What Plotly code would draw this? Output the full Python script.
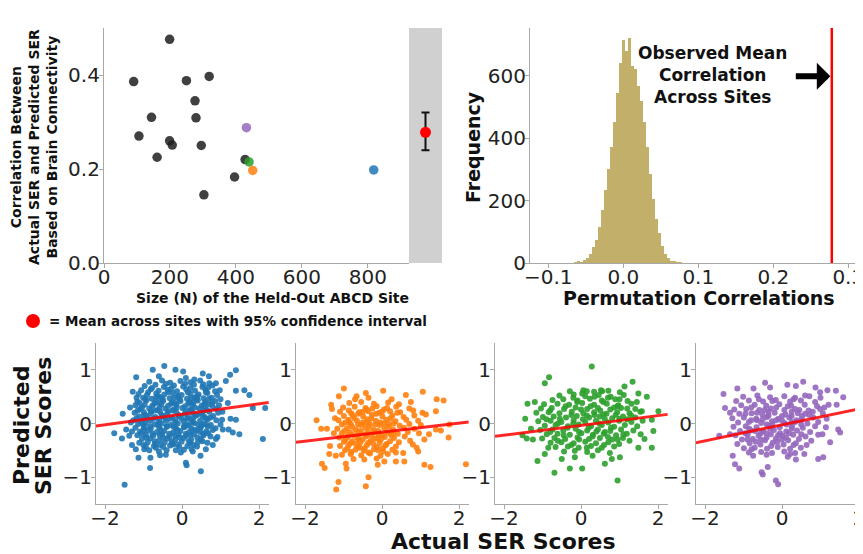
import plotly.graph_objects as go

# ---------------- data ----------------
# Top-left: per-site correlation vs site size
site_n = [199, 90, 250, 319, 276, 144, 279, 106, 199, 207, 295, 161, 428, 396, 303]
site_r = [0.476, 0.386, 0.388, 0.397, 0.345, 0.310, 0.309, 0.270, 0.260, 0.251, 0.250, 0.225, 0.220, 0.183, 0.145]
hl_n = [432, 440, 451, 818]
hl_r = [0.288, 0.215, 0.197, 0.198]
hl_colors = ["#9467bd", "#2ca02c", "#ff7f0e", "#1f77b4"]
mean_r = 0.278
ci_low = 0.240
ci_high = 0.320

# Top-right: permutation histogram (bin centers, counts)
perm_bins = [-0.064, -0.060, -0.056, -0.052, -0.048, -0.044, -0.040, -0.036, -0.032, -0.028,
             -0.024, -0.020, -0.016, -0.012, -0.008, -0.004, 0.000, 0.004, 0.008, 0.012,
             0.016, 0.020, 0.024, 0.028, 0.032, 0.036, 0.040, 0.044, 0.048, 0.052,
             0.056, 0.060, 0.064, 0.068, 0.072, 0.076]
perm_counts = [3, 8, 3, 10, 15, 30, 50, 75, 115, 170,
               235, 300, 370, 450, 545, 640, 715, 680, 720, 630,
               620, 565, 520, 450, 370, 285, 205, 140, 95, 55,
               30, 15, 8, 5, 3, 1]
observed_mean = 0.278

# Bottom: actual vs predicted SER scores for four held-out sites
BLUE = [
    (-1.49, -1.14), (-0.46, 1.07), (-0.76, 1.00), (-0.17, 1.00), (0.03, 0.97), (-1.19, 0.86),
    (1.40, 0.99), (1.25, 0.91), (1.14, 0.79), (1.62, 0.62), (1.40, 0.61), (1.75, 0.53),
    (1.84, 0.29), (2.16, 0.29), (2.10, -0.29), (1.49, -0.20), (1.32, -0.17), (1.21, -0.11),
    (1.40, 0.07), (1.26, 0.09), (1.19, 0.38), (0.88, 0.75), (0.54, 0.93), (0.32, 0.82),
    (-1.28, 0.59), (-1.54, 0.18), (-1.76, -0.18), (-1.56, -0.28), (-1.37, -0.23), (-1.45, -0.11),
    (-1.30, -0.40), (-1.13, -0.64), (-0.83, -0.83), (-0.82, -0.64), (-0.57, -0.59), (-0.42, -0.58),
    (-0.16, -0.50), (-0.03, -0.54), (0.10, -0.73), (0.12, -0.78), (0.49, -0.89), (0.48, -0.60),
    (0.25, -0.48), (0.62, -0.48), (0.88, -0.29), (1.06, -0.11), (1.04, 0.07), (-0.98, -0.48),
    (-0.68, -0.45), (-0.24, -0.39),
    (-0.85, 0.78), (-0.52, 0.80), (-0.31, 0.76), (-0.04, 0.79), (0.22, 0.77), (0.47, 0.80), (0.71, 0.75),
    (-0.97, 0.70), (-0.69, 0.72), (-0.47, 0.68), (-0.21, 0.71), (0.03, 0.69), (0.31, 0.72), (0.53, 0.68), (0.79, 0.71),
    (-1.06, 0.62), (-0.81, 0.64), (-0.61, 0.61), (-0.37, 0.63), (-0.13, 0.60), (0.11, 0.64), (0.34, 0.61), (0.61, 0.63), (0.86, 0.60),
    (-1.13, 0.55), (-0.91, 0.53), (-0.67, 0.56), (-0.46, 0.54), (-0.24, 0.57), (-0.01, 0.53), (0.21, 0.56), (0.43, 0.54), (0.66, 0.57), (0.91, 0.53),
    (-1.01, 0.48), (-0.79, 0.46), (-0.56, 0.49), (-0.32, 0.47), (-0.11, 0.50), (0.13, 0.46), (0.32, 0.49), (0.56, 0.47), (0.77, 0.48),
    (-1.16, 0.41), (-0.93, 0.43), (-0.69, 0.40), (-0.49, 0.42), (-0.26, 0.39), (-0.04, 0.42), (0.19, 0.40), (0.41, 0.43), (0.61, 0.40), (0.86, 0.42),
    (-1.21, 0.34), (-0.97, 0.35), (-0.77, 0.33), (-0.54, 0.36), (-0.36, 0.33), (-0.14, 0.35), (0.08, 0.32), (0.27, 0.35), (0.51, 0.33), (0.71, 0.36), (0.96, 0.34),
    (-1.09, 0.27), (-0.85, 0.28), (-0.63, 0.25), (-0.43, 0.28), (-0.21, 0.26), (0.01, 0.29), (0.23, 0.26), (0.45, 0.28), (0.65, 0.25), (0.89, 0.27),
    (-1.23, 0.20), (-0.99, 0.21), (-0.81, 0.19), (-0.57, 0.22), (-0.38, 0.19), (-0.15, 0.21), (0.07, 0.18), (0.27, 0.21), (0.51, 0.19), (0.71, 0.22), (0.94, 0.20),
    (-1.11, 0.13), (-0.93, 0.15), (-0.69, 0.12), (-0.49, 0.14), (-0.26, 0.11), (-0.07, 0.14), (0.16, 0.12), (0.36, 0.15), (0.59, 0.12), (0.81, 0.14),
    (-1.26, 0.06), (-1.01, 0.07), (-0.83, 0.05), (-0.59, 0.08), (-0.41, 0.05), (-0.17, 0.07), (0.04, 0.04), (0.24, 0.07), (0.47, 0.05), (0.67, 0.08), (0.89, 0.06),
    (-1.14, -0.01), (-0.95, 0.01), (-0.71, -0.02), (-0.53, 0.00), (-0.29, -0.03), (-0.11, 0.00), (0.13, -0.02), (0.32, 0.01), (0.56, -0.01), (0.75, -0.03),
    (-1.21, -0.08), (-0.99, -0.07), (-0.81, -0.10), (-0.59, -0.08), (-0.39, -0.06), (-0.16, -0.09), (0.06, -0.07), (0.25, -0.10), (0.48, -0.08), (0.67, -0.06), (0.87, -0.09),
    (-1.09, -0.15), (-0.89, -0.13), (-0.65, -0.16), (-0.46, -0.14), (-0.23, -0.17), (-0.04, -0.14), (0.19, -0.16), (0.39, -0.13), (0.63, -0.15),
    (-1.16, -0.22), (-0.94, -0.21), (-0.75, -0.23), (-0.52, -0.20), (-0.33, -0.24), (-0.09, -0.21), (0.11, -0.23), (0.31, -0.20), (0.56, -0.22), (0.74, -0.24),
    (-1.04, -0.29), (-0.83, -0.28), (-0.59, -0.31), (-0.39, -0.28), (-0.17, -0.30), (0.05, -0.27), (0.24, -0.30), (0.49, -0.29),
    (-1.11, -0.36), (-0.89, -0.35), (-0.69, -0.38), (-0.45, -0.35), (-0.26, -0.37), (-0.01, -0.34), (0.21, -0.37), (0.41, -0.35), (0.66, -0.36),
    (-0.94, -0.43), (-0.73, -0.42), (-0.49, -0.44), (-0.31, -0.41), (-0.07, -0.44), (0.14, -0.42), (0.39, -0.43),
    (-0.95, 0.45), (-0.72, 0.37), (-0.50, 0.45), (-0.28, 0.37), (-0.06, 0.45), (0.16, 0.37), (0.38, 0.45), (0.58, 0.37),
    (-1.04, 0.30), (-0.80, 0.23), (-0.58, 0.30), (-0.36, 0.23), (-0.14, 0.30), (0.10, 0.23), (0.33, 0.30), (0.55, 0.23),
    (-0.98, 0.16), (-0.75, 0.09), (-0.53, 0.16), (-0.31, 0.09), (-0.09, 0.16), (0.13, 0.09), (0.38, 0.16), (0.62, 0.09),
    (-1.06, 0.02), (-0.83, -0.05), (-0.61, 0.02), (-0.40, -0.05), (-0.18, 0.02), (0.05, -0.05), (0.27, 0.02), (0.50, -0.05),
    (-0.99, -0.12), (-0.77, -0.19), (-0.55, -0.12), (-0.33, -0.19), (-0.12, -0.12), (0.10, -0.19), (0.33, -0.12), (0.55, -0.19),
    (-0.93, -0.26), (-0.71, -0.33), (-0.49, -0.26), (-0.27, -0.33), (-0.05, -0.26), (0.18, -0.33), (0.40, -0.26),
    (-0.88, 0.58), (-0.62, 0.51), (-0.36, 0.58), (-0.10, 0.51), (0.15, 0.58), (0.40, 0.51), (0.62, 0.58),
    (-1.18, 0.48), (-0.67, 0.49), (-0.20, 0.48), (0.24, 0.47), (0.70, 0.46),
    (-1.10, 0.38), (-0.60, 0.39), (-0.17, 0.38), (0.30, 0.39), (0.78, 0.38),
    (-1.15, 0.24), (-0.70, 0.24), (-0.25, 0.24), (0.20, 0.24), (0.60, 0.30), (0.80, 0.31),
    (-1.18, 0.10), (-0.88, 0.10), (-0.44, 0.10), (-0.02, 0.10), (0.30, 0.11), (0.52, 0.15), (0.74, 0.11),
    (-1.00, -0.03), (-0.62, -0.03), (-0.22, -0.06), (0.18, -0.04), (0.42, -0.03), (0.63, -0.02), (0.80, -0.12),
    (-1.05, -0.19), (-0.58, -0.22), (-0.18, -0.23), (0.22, -0.21), (0.47, -0.16), (0.68, -0.18),
    (-1.00, -0.40), (-0.56, -0.40), (-0.12, -0.39), (0.30, -0.40), (0.53, -0.33),
    (-0.78, 0.66), (-0.28, 0.65), (0.22, 0.66), (0.68, 0.67),
    (-0.42, 0.74), (0.08, 0.74), (0.55, 0.73),
    (-0.85, -0.50), (-0.40, -0.50), (0.05, -0.49), (0.28, -0.52),
    (1.00, 0.45), (1.05, 0.22), (1.00, -0.02), (0.98, 0.62), (-1.35, 0.30), (-1.33, 0.02), (-1.30, -0.15),
    (0.92, -0.25), (0.80, -0.40), (-1.20, -0.48), (-0.60, -0.52), (0.10, 0.85), (-0.60, 0.88), (0.70, 0.88),
]

ORANGE = [
    (-1.19, -1.23), (-1.13, -1.09), (-0.42, -1.17), (-0.35, -1.00), (-0.99, 0.65), (-1.12, 0.51),
    (-0.42, 0.57), (0.03, 0.61), (-0.66, 0.51), (0.62, 0.53), (1.06, 0.59), (1.42, 0.45),
    (1.60, 0.43), (-1.70, 0.06), (-1.58, -0.10), (-1.43, -0.10), (-1.56, -0.75), (-1.49, -0.83),
    (-1.37, -0.57), (-0.94, -0.75), (-0.92, -0.84), (-0.11, -0.77), (0.06, -0.71), (0.36, -0.71),
    (0.58, -0.71), (1.10, -0.77), (1.26, -0.81), (2.18, -0.76), (1.73, -0.26), (1.53, -0.13),
    (1.75, -0.02), (1.40, -0.11), (1.22, -0.20), (0.94, -0.52), (0.80, -0.39), (-1.32, 0.35),
    (-1.30, 0.27), (-1.35, -0.42), (0.15, -0.57), (0.36, -0.54), (1.14, 0.17), (1.40, 0.23),
    (-0.85, 0.38), (-0.54, 0.40), (-0.21, 0.37), (0.16, 0.39), (0.44, 0.36),
    (-1.01, 0.30), (-0.71, 0.31), (-0.43, 0.29), (-0.14, 0.32), (0.13, 0.29), (0.37, 0.31), (0.71, 0.28),
    (-1.09, 0.22), (-0.86, 0.24), (-0.59, 0.21), (-0.36, 0.23), (-0.07, 0.20), (0.21, 0.23), (0.47, 0.21), (0.81, 0.24),
    (-0.99, 0.14), (-0.76, 0.15), (-0.49, 0.13), (-0.26, 0.16), (0.01, 0.13), (0.27, 0.15), (0.56, 0.12), (0.84, 0.15),
    (-1.13, 0.06), (-0.87, 0.07), (-0.65, 0.05), (-0.39, 0.08), (-0.16, 0.05), (0.11, 0.07), (0.35, 0.04), (0.63, 0.07), (0.94, 0.05),
    (-1.04, -0.02), (-0.81, -0.01), (-0.55, -0.03), (-0.33, 0.00), (-0.07, -0.03), (0.17, -0.01), (0.46, -0.04), (0.71, -0.01), (1.01, -0.03),
    (-1.16, -0.10), (-0.91, -0.09), (-0.69, -0.11), (-0.43, -0.08), (-0.21, -0.12), (0.06, -0.09), (0.29, -0.11), (0.57, -0.08), (0.84, -0.10),
    (-1.04, -0.18), (-0.83, -0.17), (-0.57, -0.19), (-0.36, -0.16), (-0.09, -0.20), (0.14, -0.17), (0.41, -0.19), (0.67, -0.16), (0.96, -0.18),
    (-1.11, -0.26), (-0.89, -0.25), (-0.64, -0.27), (-0.41, -0.24), (-0.19, -0.28), (0.07, -0.25), (0.31, -0.27), (0.59, -0.24),
    (-0.99, -0.34), (-0.77, -0.33), (-0.56, -0.35), (-0.29, -0.32), (-0.06, -0.36), (0.21, -0.33), (0.44, -0.35), (0.73, -0.32),
    (-1.09, -0.42), (-0.87, -0.41), (-0.61, -0.43), (-0.39, -0.40), (-0.13, -0.44), (0.09, -0.41), (0.36, -0.43),
    (-0.96, -0.50), (-0.69, -0.49), (-0.47, -0.51), (-0.21, -0.48), (0.03, -0.52), (0.27, -0.49),
    (-1.04, -0.58), (-0.81, -0.57), (-0.54, -0.59), (-0.31, -0.56), (-0.04, -0.60),
    (-0.74, -0.66), (-0.46, -0.67), (-0.14, -0.65),
    (-0.95, 0.02), (-0.72, 0.10), (-0.50, 0.02), (-0.28, 0.10), (-0.05, 0.02), (0.22, 0.10),
    (-0.98, -0.14), (-0.78, -0.06), (-0.55, -0.14), (-0.32, -0.06), (-0.10, -0.14), (0.18, -0.06),
    (-0.95, -0.30), (-0.74, -0.22), (-0.50, -0.30), (-0.28, -0.22), (-0.03, -0.30), (0.24, -0.22),
    (-0.90, -0.46), (-0.68, -0.38), (-0.45, -0.46), (-0.22, -0.38), (0.02, -0.46),
    (-0.62, 0.18), (-0.40, 0.26), (-0.15, 0.18), (0.05, 0.26),
    (-0.85, 0.02), (-0.62, -0.02), (-0.40, 0.02), (-0.18, -0.02), (0.05, 0.00), (0.30, 0.00),
    (-0.88, -0.22), (-0.62, -0.15), (-0.42, -0.20), (-0.20, -0.16), (0.00, -0.22), (0.28, -0.18),
    (-0.82, -0.37), (-0.60, -0.30), (-0.35, -0.36), (-0.12, -0.28), (0.12, -0.38),
    (-0.80, -0.53), (-0.58, -0.45), (-0.35, -0.54), (-0.10, -0.50),
    (-0.80, 0.19), (-0.50, 0.22), (-0.25, 0.28), (0.00, 0.22), (0.40, 0.20),
    (-1.25, -0.18), (-1.22, 0.10), (1.10, -0.30), (1.05, 0.20), (0.90, -0.45), (-1.20, -0.60), (0.55, -0.55),
    (-0.70, 0.45), (-0.35, 0.48), (0.25, 0.45), (0.75, 0.40),
]

GREEN = [
    (0.28, 1.06), (-0.83, 0.86), (-0.94, 0.75), (0.95, -1.06), (-0.69, -0.92), (-1.13, -0.70),
    (-0.29, -0.84), (0.03, -0.84), (0.62, -0.75), (-1.39, 0.37), (-1.45, 0.09), (-1.52, -0.22),
    (-1.41, -0.28), (-1.30, -0.10), (2.01, 0.23), (1.84, 0.07), (1.88, -0.14), (1.84, -0.45),
    (1.65, -0.29), (1.49, -0.45), (1.34, 0.78), (1.13, 0.69), (1.49, 0.56), (1.71, 0.50),
    (1.58, 0.23), (1.26, -0.32), (1.01, -0.63), (0.80, -0.66), (-0.16, -0.63), (-0.50, -0.66),
    (-0.94, -0.57), (0.03, 0.56), (0.52, 0.62),
    (-0.29, 0.60), (0.06, 0.62), (0.34, 0.59), (0.71, 0.61), (1.01, 0.58),
    (-0.56, 0.52), (-0.19, 0.54), (0.11, 0.51), (0.46, 0.53), (0.77, 0.50), (1.11, 0.53),
    (-0.74, 0.44), (-0.46, 0.45), (-0.09, 0.43), (0.23, 0.46), (0.54, 0.43), (0.89, 0.45), (1.21, 0.42),
    (-0.96, 0.36), (-0.61, 0.37), (-0.31, 0.35), (0.03, 0.38), (0.34, 0.35), (0.67, 0.37), (0.97, 0.34), (1.31, 0.37),
    (-1.04, 0.28), (-0.76, 0.29), (-0.44, 0.27), (-0.14, 0.30), (0.16, 0.27), (0.44, 0.29), (0.76, 0.26), (1.04, 0.29), (1.41, 0.27),
    (-1.16, 0.20), (-0.84, 0.21), (-0.56, 0.19), (-0.24, 0.22), (0.06, 0.19), (0.34, 0.21), (0.66, 0.18), (0.94, 0.21), (1.26, 0.19), (1.54, 0.22),
    (-0.99, 0.12), (-0.71, 0.13), (-0.39, 0.11), (-0.11, 0.14), (0.21, 0.11), (0.49, 0.13), (0.81, 0.10), (1.09, 0.13), (1.41, 0.11),
    (-1.11, 0.04), (-0.79, 0.05), (-0.51, 0.03), (-0.19, 0.06), (0.11, 0.03), (0.39, 0.05), (0.71, 0.02), (0.99, 0.05), (1.31, 0.03),
    (-0.94, -0.04), (-0.66, -0.03), (-0.34, -0.05), (-0.06, -0.02), (0.26, -0.05), (0.54, -0.03), (0.86, -0.06), (1.14, -0.03), (1.46, -0.05),
    (-1.06, -0.12), (-0.74, -0.11), (-0.46, -0.13), (-0.14, -0.10), (0.16, -0.13), (0.44, -0.11), (0.76, -0.14), (1.04, -0.11), (1.36, -0.13),
    (-0.89, -0.20), (-0.61, -0.19), (-0.29, -0.21), (0.01, -0.18), (0.31, -0.21), (0.59, -0.19), (0.91, -0.22), (1.19, -0.19),
    (-1.01, -0.28), (-0.69, -0.27), (-0.41, -0.29), (-0.09, -0.26), (0.21, -0.29), (0.49, -0.27), (0.81, -0.30), (1.09, -0.27),
    (-0.79, -0.36), (-0.51, -0.35), (-0.19, -0.37), (0.11, -0.34), (0.39, -0.37), (0.71, -0.35), (0.99, -0.38),
    (-0.66, -0.44), (-0.34, -0.43), (-0.06, -0.45), (0.26, -0.42), (0.54, -0.45), (0.86, -0.43),
    (-0.44, -0.52), (-0.16, -0.51), (0.16, -0.53), (0.44, -0.50),
    (0.05, 0.08), (0.35, 0.16), (0.62, 0.08), (0.90, 0.16), (-0.25, 0.16), (0.20, -0.08),
    (0.48, 0.00), (0.78, -0.08), (-0.05, -0.16), (0.30, -0.24), (0.62, -0.16), (0.95, 0.32),
    (0.58, 0.40), (0.25, 0.32), (-0.10, 0.40), (1.20, 0.08), (-0.60, 0.00), (-0.35, -0.08),
    (-0.80, 0.24), (-0.40, 0.32), (0.00, 0.26), (0.50, 0.24), (0.86, 0.30), (1.20, 0.28),
    (-0.90, 0.08), (-0.55, 0.09), (-0.20, 0.00), (0.15, 0.15), (0.58, 0.17), (1.00, 0.09), (1.30, 0.15),
    (-0.80, -0.16), (-0.45, -0.22), (-0.05, -0.30), (0.40, -0.15), (0.70, -0.25), (1.10, -0.20),
    (-0.60, -0.32), (-0.25, -0.40), (0.15, -0.45), (0.60, -0.40), (0.95, -0.30),
    (-0.20, 0.48), (0.35, 0.50), (0.70, 0.48), (1.00, 0.45), (0.15, 0.60), (0.55, 0.60),
    (-1.20, 0.40), (-1.25, -0.30), (1.60, 0.05), (1.55, -0.20), (1.45, 0.40), (-0.85, -0.45), (0.30, -0.60), (0.75, -0.55),
]

PURPLE = [
    (-0.10, -1.13), (-0.16, -1.06), (-0.53, -0.91), (-0.50, -0.95), (-0.37, -0.81), (-1.22, -0.76),
    (-1.11, -0.84), (-1.28, -0.60), (-1.52, 0.55), (-1.48, 0.29), (-1.63, -0.23), (-1.16, 0.65),
    (-0.44, 0.76), (-0.31, 0.67), (0.55, 0.78), (0.36, 0.70), (0.14, 0.72), (0.87, 0.67),
    (0.99, 0.58), (1.18, 0.62), (1.40, 0.61), (1.59, 0.49), (1.42, 0.35), (1.46, -0.11),
    (1.51, -0.17), (1.25, -0.35), (1.07, -0.63), (0.94, -0.66), (0.58, -0.57), (0.36, -0.67),
    (2.09, 0.02), (0.21, -0.57), (-0.79, -0.48), (-0.74, 0.65),
    (-1.01, 0.50), (-0.64, 0.52), (-0.31, 0.49), (0.06, 0.51), (0.34, 0.48), (0.71, 0.51),
    (-1.19, 0.42), (-0.86, 0.43), (-0.49, 0.41), (-0.16, 0.44), (0.21, 0.41), (0.49, 0.43), (0.86, 0.40),
    (-1.06, 0.34), (-0.71, 0.35), (-0.41, 0.33), (-0.07, 0.36), (0.24, 0.33), (0.59, 0.35), (0.91, 0.32), (1.21, 0.35),
    (-1.24, 0.26), (-0.93, 0.27), (-0.59, 0.25), (-0.29, 0.28), (0.06, 0.25), (0.34, 0.27), (0.69, 0.24), (0.99, 0.27),
    (-1.11, 0.18), (-0.79, 0.19), (-0.51, 0.17), (-0.19, 0.20), (0.09, 0.17), (0.41, 0.19), (0.71, 0.16), (1.06, 0.19),
    (-1.29, 0.10), (-0.99, 0.11), (-0.67, 0.09), (-0.39, 0.12), (-0.09, 0.09), (0.19, 0.11), (0.51, 0.08), (0.81, 0.11), (1.16, 0.09),
    (-1.14, 0.02), (-0.86, 0.03), (-0.54, 0.01), (-0.26, 0.04), (0.06, 0.01), (0.34, 0.03), (0.66, 0.00), (0.94, 0.03),
    (-1.26, -0.06), (-0.94, -0.05), (-0.66, -0.07), (-0.34, -0.04), (-0.06, -0.07), (0.26, -0.05), (0.54, -0.08), (0.86, -0.05), (1.14, -0.07),
    (-1.09, -0.14), (-0.81, -0.13), (-0.49, -0.15), (-0.21, -0.12), (0.11, -0.15), (0.39, -0.13), (0.73, -0.16),
    (-1.21, -0.22), (-0.89, -0.21), (-0.61, -0.23), (-0.29, -0.20), (0.01, -0.23), (0.29, -0.21), (0.61, -0.24), (0.94, -0.21),
    (-1.04, -0.30), (-0.76, -0.29), (-0.44, -0.31), (-0.16, -0.28), (0.16, -0.31), (0.44, -0.29), (0.76, -0.32),
    (-1.16, -0.38), (-0.84, -0.37), (-0.56, -0.39), (-0.24, -0.36), (0.04, -0.39), (0.36, -0.37), (0.64, -0.40),
    (-0.99, -0.46), (-0.71, -0.45), (-0.39, -0.47), (-0.11, -0.44), (0.21, -0.47), (0.49, -0.45),
    (-0.86, -0.54), (-0.54, -0.53), (-0.26, -0.55), (0.06, -0.52), (0.34, -0.55),
    (-0.65, 0.06), (-0.40, -0.02), (-0.15, 0.06), (0.12, -0.02), (0.38, 0.06), (-0.55, -0.18),
    (-0.30, -0.10), (-0.05, -0.18), (0.25, -0.10), (-0.68, -0.34), (-0.40, -0.26), (-0.12, -0.34),
    (0.00, 0.14), (0.25, 0.22), (0.52, 0.14), (-0.35, 0.22), (-0.85, -0.10), (0.10, -0.26),
    (-0.80, 0.06), (-0.50, 0.08), (-0.25, -0.02), (0.00, 0.05), (0.25, 0.03), (0.50, -0.02),
    (-0.95, -0.18), (-0.70, -0.14), (-0.40, -0.18), (-0.10, -0.22), (0.18, -0.18), (0.50, -0.20),
    (-0.90, -0.30), (-0.55, -0.30), (-0.28, -0.42), (0.00, -0.30), (0.30, -0.40),
    (-0.80, 0.30), (-0.45, 0.25), (-0.15, 0.30), (0.15, 0.32), (0.45, 0.25), (0.80, 0.22),
    (-0.95, 0.18), (-0.65, 0.20), (-0.35, 0.15), (0.25, 0.14), (0.60, 0.18),
    (-0.60, 0.45), (-0.25, 0.42), (0.30, 0.45), (0.60, 0.52), (1.00, 0.48),
    (-0.75, -0.60), (-0.40, -0.58), (0.15, -0.62), (-1.35, -0.20), (-1.35, 0.20), (1.05, -0.20), (1.10, 0.30),
]

# Regression line end points per site
fit_x = [-2.25, 2.25]
fit_y = {
    "blue": [-0.05, 0.39],
    "orange": [-0.35, 0.03],
    "green": [-0.24, 0.17],
    "purple": [-0.36, 0.31],
}

# ---------------- figure ----------------
# The page body has an 8px margin, so the figure is 8px smaller and all
# layout positions (measured in window pixels) are shifted by that offset.
OX, OY = 8, 8
W, H = 863 - OX, 554 - OY
def fx(p):
    return (p - OX) / W
def fy(p):
    return 1 - (p - OY) / H
def px_x(a, b):
    return [fx(a), fx(b)]
def px_y(top, bottom):
    return [fy(bottom), fy(top)]

TICKFONT = dict(family="DejaVu Sans", size=20, color="#222222")
AXCOL = "#a8a8a8"
axis_common = dict(showline=True, linecolor=AXCOL, linewidth=1.2, ticks="outside",
                   ticklen=4, tickcolor=AXCOL, tickwidth=1, showgrid=False, zeroline=False,
                   tickfont=TICKFONT, automargin=False, ticklabeloverflow="allow")
xax_common = dict(axis_common, ticklabelstandoff=-8)
yax_common = dict(axis_common, ticklabelstandoff=-5)

fig = go.Figure()

# top-left scatter
fig.add_trace(go.Scatter(x=site_n, y=site_r, mode="markers", xaxis="x", yaxis="y",
                         marker=dict(size=9.5, color="rgba(30,30,30,0.85)", line=dict(width=0))))
fig.add_trace(go.Scatter(x=hl_n, y=hl_r, mode="markers", xaxis="x", yaxis="y",
                         marker=dict(size=9.5, color=hl_colors, opacity=0.85, line=dict(width=0))))
# mean with CI in the grey band
fig.add_trace(go.Scatter(x=[0.5], y=[mean_r], mode="markers", xaxis="x2", yaxis="y",
                         marker=dict(size=11, color="red"),
                         error_y=dict(type="data", symmetric=False,
                                      array=[ci_high - mean_r], arrayminus=[mean_r - ci_low],
                                      color="#111111", thickness=2, width=4)))

# histogram
fig.add_trace(go.Bar(x=perm_bins, y=perm_counts, width=0.0042, xaxis="x3", yaxis="y3",
                     marker=dict(color="#c2b06a", line=dict(width=0))))

# bottom scatter panels
panels = [(BLUE, "#1f77b4", "blue"), (ORANGE, "#ff7f0e", "orange"),
          (GREEN, "#2ca02c", "green"), (PURPLE, "#9467bd", "purple")]
for i, (pts, col, key) in enumerate(panels):
    ax = str(4 + i)
    fig.add_trace(go.Scatter(x=[p[0] for p in pts], y=[p[1] for p in pts], mode="markers",
                             xaxis="x" + ax, yaxis="y" + ax,
                             marker=dict(size=6, color=col, opacity=0.9, line=dict(width=0))))
    fig.add_trace(go.Scatter(x=fit_x, y=fit_y[key], mode="lines", xaxis="x" + ax, yaxis="y" + ax,
                             line=dict(color="rgba(255,0,0,0.85)", width=3)))

layout = dict(
    template="none",
    width=W, height=H, margin=dict(l=0, r=0, t=0, b=0, pad=0),
    paper_bgcolor="white", plot_bgcolor="white", showlegend=False, bargap=0,
    font=dict(family="DejaVu Sans", color="#111111"),
    xaxis=dict(domain=px_x(104, 409), range=[0, 925], tickvals=[0, 200, 400, 600, 800], anchor="y", **xax_common),
    yaxis=dict(domain=px_y(28, 263), range=[0, 0.5], tickvals=[0, 0.2, 0.4], tickformat=".1f", anchor="x", **yax_common),
    xaxis2=dict(domain=px_x(409, 442), range=[0, 1], anchor="y", visible=False, automargin=False),
    xaxis3=dict(domain=px_x(530, 863), range=[-0.1244, 0.3196], tickvals=[-0.1, 0, 0.1, 0.2, 0.3],
                tickformat=".1f", anchor="y3", **xax_common),
    yaxis3=dict(domain=px_y(28, 263), range=[0, 752], tickvals=[0, 200, 400, 600], anchor="x3", **yax_common),
)
bottom_left = [96, 296, 495, 696]
for i, left in enumerate(bottom_left):
    ax = str(4 + i)
    right = min(left + 173, 863)
    x0 = -86 / 38.5
    x1 = (right - left - 86) / 38.5
    layout["xaxis" + ax] = dict(domain=px_x(left, right), range=[x0, x1], tickvals=[-2, 0, 2],
                                anchor="y" + ax, **xax_common)
    layout["yaxis" + ax] = dict(domain=px_y(343, 504), range=[-1.5, 1.5], tickvals=[-1, 0, 1],
                                anchor="x" + ax, **yax_common)
fig.update_layout(**layout)

shapes = [
    dict(type="rect", xref="x2", yref="y domain", x0=0, x1=1, y0=0, y1=1,
         fillcolor="#d0d0d0", line=dict(width=0), layer="below"),
    dict(type="line", xref="x3", yref="y3 domain", x0=observed_mean, x1=observed_mean, y0=0, y1=1,
         line=dict(color="red", width=2.5)),
    dict(type="circle", xref="paper", yref="paper", x0=fx(26), x1=fx(40), y0=fy(328), y1=fy(314),
         fillcolor="red", line=dict(width=0)),
]
fig.update_layout(shapes=shapes)

B = "DejaVu Sans"
anns = [
    dict(text="<b>Correlation Between<br>Actual SER and Predicted SER<br>Based on Brain Connectivity</b>",
         x=fx(34), y=fy(147), textangle=-90, font=dict(family=B, size=14, color="#111")),
    dict(text="<b>Size (N) of the Held-Out ABCD Site</b>", x=fx(272), y=fy(298),
         font=dict(family=B, size=14, color="#111")),
    dict(text="<b>= Mean across sites with 95% confidence interval</b>", x=fx(47), y=fy(321),
         xanchor="left", font=dict(family=B, size=13.5, color="#111")),
    dict(text="<b>Frequency</b>", x=fx(473), y=fy(147), textangle=-90,
         font=dict(family=B, size=19, color="#111")),
    dict(text="<b>Permutation Correlations</b>", x=fx(699), y=fy(298),
         font=dict(family=B, size=19, color="#111")),
    dict(text="<b>Observed Mean<br>Correlation<br>Across Sites</b>", x=fx(712), y=fy(75),
         font=dict(family=B, size=17, color="#111")),
    dict(text="<b>Predicted</b>", x=fx(22), y=fy(426), textangle=-90,
         font=dict(family=B, size=22, color="#111")),
    dict(text="<b>SER Scores</b>", x=fx(44), y=fy(426), textangle=-90,
         font=dict(family=B, size=22, color="#111")),
    dict(text="<b>Actual SER Scores</b>", x=fx(503), y=fy(541),
         font=dict(family=B, size=22, color="#111")),
]
for a in anns:
    a.update(xref="paper", yref="paper", showarrow=False)
    a.setdefault("xanchor", "center")
    a.setdefault("yanchor", "middle")
anns.append(dict(x=observed_mean - 0.002, y=598, xref="x3", yref="y3", ax=-36, ay=0,
                 axref="pixel", ayref="pixel", showarrow=True, arrowhead=1, arrowsize=0.75,
                 arrowwidth=6, arrowcolor="black", text="", standoff=0))
fig.update_layout(annotations=anns)

fig.write_html("out.html")
